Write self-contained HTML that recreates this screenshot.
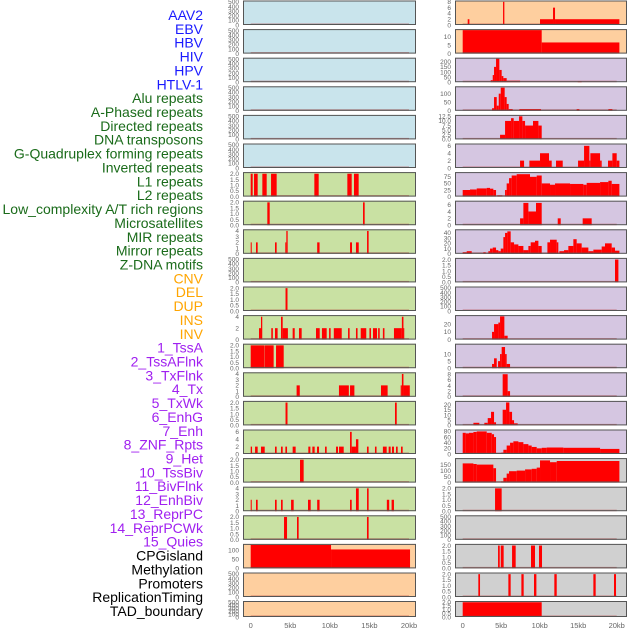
<!DOCTYPE html>
<html><head><meta charset="utf-8"><style>
html,body{margin:0;padding:0;background:#fff;}
svg{display:block;font-family:"Liberation Sans",sans-serif;}
</style></head><body>
<svg id="chart" width="630" height="630" viewBox="0 0 630 630"></svg>
<script>
const trackLabels = ["AAV2","EBV","HBV","HIV","HPV","HTLV-1","Alu repeats","A-Phased repeats","Directed repeats","DNA transposons","G-Quadruplex forming repeats","Inverted repeats","L1 repeats","L2 repeats","Low_complexity A/T rich regions","Microsatellites","MIR repeats","Mirror repeats","Z-DNA motifs","CNV","DEL","DUP","INS","INV","1_TssA","2_TssAFlnk","3_TxFlnk","4_Tx","5_TxWk","6_EnhG","7_Enh","8_ZNF_Rpts","9_Het","10_TssBiv","11_BivFlnk","12_EnhBiv","13_ReprPC","14_ReprPCWk","15_Quies","CPGisland","Methylation","Promoters","ReplicationTiming","TAD_boundary"];
const labelGroups = [6,13,5,15,5];
const groupColors = ["#1a1aff","#1a6b1a","#ffa500","#a020f0","#000000"];
const xTicks = [0,5,10,15,20];
const xTickLabels = ["0","5kb","10kb","15kb","20kb"];

const ticks500 = [0,100,200,300,400,500];
const ticks2 = [0,0.5,1,1.5,2];
const ticks4 = [0,1,2,3,4];

// left column segments [startKb, endKb, value]
const leftYmax = [520,520,520,520,520,520,2.1,2.1,4.2,520,2.1,4.2,2.1,4.2,2.1,6.5,2.1,4.2,2.1,133,520,520];
const leftTicks = [ticks500,ticks500,ticks500,ticks500,ticks500,ticks500,ticks2,ticks2,ticks4,ticks500,ticks2,[0,2,4],ticks2,ticks4,ticks2,[0,2,4,6],ticks2,ticks4,ticks2,[0,50,100],ticks500,ticks500];
const leftSegs = [
 [],[],[],[],[],[],
 [[0,0.25,2],[0.42,0.88,2],[1.47,2.02,2],[2.57,3.28,2],[8.04,8.59,2],[12.21,12.76,2],[13.05,13.64,2]],
 [[2.1,2.4,2],[14.19,14.4,2]],
 [[0,0.13,2],[0.67,0.88,2],[3.07,3.28,2],[4.37,4.5,2],[4.5,4.67,4],[8.4,8.7,2],[12.55,12.8,2],[13.3,13.65,2],[14.7,14.9,4]],
 [],
 [[4.4,4.65,2]],
 [[1.05,1.3,2],[1.3,1.46,4],[2.6,2.8,2],[3.07,3.4,2],[3.83,4.04,4],[4.04,4.7,2],[5.3,5.56,2],[6.1,6.44,2],[8.25,8.72,2],[9.0,9.6,2],[9.9,10.1,2],[10.5,11.5,2],[12.3,12.5,2],[13.3,13.5,2],[13.9,14.6,2],[15.0,15.2,2],[15.45,15.96,2],[16.1,16.3,2],[16.7,16.9,2],[18.1,19.1,2],[19.1,19.3,4],[19.3,19.4,2]],
 [[0,1.68,2],[1.72,2.9,2],[3.2,4.17,2]],
 [[5.8,6.2,2],[11.15,12.4,2],[12.55,13.1,2],[16.46,17.3,2],[18.95,19.1,2],[19.1,19.3,4],[19.3,20.1,2]],
 [[4.4,4.65,2],[18.23,18.45,2]],
 [[0,0.17,2],[0.55,0.88,2],[1.3,1.77,2],[3.07,3.28,2],[3.83,4.04,2],[4.38,4.59,2],[5.3,5.68,2],[7.28,7.54,2],[7.79,8.08,2],[8.38,8.63,2],[9.39,9.6,2],[10.78,11.03,2],[11.16,11.75,2],[12.55,12.76,6],[12.76,13.3,2],[13.3,13.6,4],[14.69,14.9,2],[15.7,15.9,2],[16.7,17.18,2],[17.43,17.68,2],[17.85,18.1,2],[18.36,18.57,2],[18.99,19.2,2]],
 [[6.23,6.69,2]],
 [[0,0.13,2],[0.67,0.88,2],[3.07,3.28,2],[3.83,4.04,2],[5.1,5.43,2],[7.24,7.58,2],[8.4,8.7,2],[12.55,12.76,2],[13.3,13.65,4],[14.7,14.9,4],[17.2,17.5,2],[17.8,18.1,2]],
 [[4.21,4.59,2],[5.85,6.06,2],[14.69,14.9,2]],
 [[0,10.15,130],[10.15,20.13,105]],
 [],[]
];

// right column
const rightYmax = [8.3,14,235,140,13,6.5,91,7,46,2.1,520,31,17,8.5,23,85,200,2.1,520,2.1,2.1,2.1];
const rightTicks = [[0,2,4,6,8],[0,5,10],[0,50,100,150,200],[0,50,100],[0,2.5,5,7.5,10,12.5],[0,2,4,6],[0,25,50,75],[0,2,4,6],[0,10,20,30,40],ticks2,ticks500,[0,10,20],[0,5,10],[0,2,4,6,8],[0,5,10,15,20],[0,20,40,60,80],[0,50,100,150],ticks2,ticks500,ticks2,ticks2,ticks2];
const rightSegs = [
 [[0.65,0.87,2],[5.24,5.41,8],[10.04,11.73,2],[11.73,11.99,6],[11.99,20.35,2]],
 [[0,10.26,13.7],[10.26,20.35,6.5]],
 [[3.64,3.9,20],[3.9,4.07,70],[4.07,4.33,150],[4.33,4.76,230],[4.76,5.06,120],[5.06,5.28,60],[5.28,5.71,40],[5.71,7.45,15],[14.94,15.45,10]],
 [[3.81,4.07,15],[4.07,4.42,80],[4.42,4.68,30],[4.68,4.94,100],[4.94,5.45,135],[5.45,5.71,80],[5.71,5.97,40],[5.97,6.49,10],[7.36,10.17,10],[14.8,15.15,10],[18.92,19.44,10]],
 [[4.85,5.5,2.5],[5.5,6.28,10],[6.28,6.62,11.5],[6.62,7.32,10],[7.32,7.75,12.5],[7.75,8.1,10],[8.1,9.13,7.5],[9.13,9.83,10],[9.83,10.26,7.5]],
 [[7.45,7.97,2],[8.66,10.04,2],[10.04,11.21,4],[11.21,11.56,2],[12.12,12.99,2],[14.98,15.76,2],[15.76,16.45,6],[16.45,16.58,2],[16.58,17.84,4],[17.84,18.05,2],[18.87,19.44,2],[19.44,20.0,4],[20.0,20.35,2]],
 [[0,0.95,25],[0.95,1.82,27],[1.82,3.12,31],[3.12,3.55,33],[3.55,3.98,30],[3.98,4.33,25],[4.5,5.15,5],[5.5,5.71,25],[5.71,6.02,50],[6.02,6.36,70],[6.36,7.01,80],[7.01,8.74,85],[8.74,9.61,75],[9.61,10.26,80],[10.26,11.34,50],[11.34,11.99,45],[11.99,13.94,50],[13.94,15.67,48],[15.67,16.1,45],[16.1,17.84,52],[17.84,18.92,55],[18.92,19.35,60],[19.35,20.35,48]],
 [[7.45,7.88,2],[7.88,8.53,6.5],[8.53,9.52,4],[9.52,10.26,6.5],[12.34,12.73,2],[15.58,16.75,2]],
 [[0,0.52,3],[0.52,1.17,5],[2.68,2.99,3],[3.33,3.55,5],[3.55,3.9,10],[3.9,4.33,12],[4.33,4.63,7],[4.63,4.94,5],[4.94,5.28,10],[5.28,5.5,32],[5.5,5.8,40],[5.8,6.23,43],[6.23,6.67,22],[6.67,7.23,18],[7.23,7.88,15],[7.88,8.53,7],[8.53,8.83,15],[8.83,9.39,22],[9.39,9.83,25],[9.83,10.26,15],[11.0,11.34,22],[11.34,12.21,27],[12.21,12.42,22],[12.55,13.16,5],[13.16,13.72,7],[13.72,14.37,15],[14.37,14.8,28],[14.8,15.45,20],[15.45,16.32,12],[16.32,16.97,5],[16.97,18.05,8],[18.05,18.48,14],[18.48,19.35,20],[19.35,19.78,12],[19.78,20.35,6]],
 [[19.78,20.22,2]],
 [],
 [[3.81,4.07,10],[4.07,4.63,20],[4.63,4.85,22],[4.85,5.41,30],[5.41,5.84,5]],
 [[3.81,4.07,3],[4.07,4.42,7],[4.59,4.85,5],[4.85,5.06,10],[5.06,5.5,15],[5.5,5.71,10],[5.71,6.15,3]],
 [[5.19,5.84,8],[5.84,6.15,2]],
 [[1.39,2.16,2.5],[2.81,3.25,2.5],[3.25,3.68,7],[3.68,4.07,13],[4.07,4.33,3],[5.19,5.63,15],[5.63,6.06,22],[6.06,6.41,13],[6.41,6.67,5],[6.67,7.14,2]],
 [[0,0.39,75],[0.39,0.82,73],[0.82,1.39,75],[1.39,1.82,78],[1.82,3.12,80],[3.12,3.77,75],[3.77,4.07,70],[4.07,4.33,60],[5.02,5.28,5],[5.28,5.71,15],[5.71,6.15,30],[6.15,6.58,40],[6.58,7.23,45],[7.23,7.88,42],[7.88,8.53,35],[8.53,8.96,30],[8.96,9.61,25],[9.61,10.26,20],[10.26,10.91,22],[10.91,13.07,23],[13.07,17.84,22],[17.84,20.35,18]],
 [[0,1.39,160],[1.39,1.82,155],[1.82,3.98,150],[3.98,4.33,120],[4.98,5.28,10],[5.28,5.71,40],[5.71,6.02,75],[6.02,7.01,95],[7.01,8.1,100],[8.1,8.96,110],[8.96,9.61,115],[9.61,10.04,125],[10.04,11.34,185],[11.34,12.21,170],[12.21,20.35,180]],
 [[4.2,5.06,2]],
 [],
 [[4.59,4.81,2],[4.94,5.32,2],[6.41,6.88,2],[8.87,9.39,2],[9.91,10.3,2]],
 [[2.03,2.25,2],[5.93,6.23,2],[7.62,7.92,2],[9.26,9.57,2],[11.9,12.21,2],[16.97,17.27,2],[19.65,19.91,2]],
 [[0,10.26,2]]
];

const NS = "http://www.w3.org/2000/svg";
const svg = document.getElementById("chart");
function mk(tag, attrs, parent){ const e=document.createElementNS(NS,tag); for(const k in attrs) e.setAttribute(k,attrs[k]); (parent||svg).appendChild(e); return e; }

// labels
let li=0;
labelGroups.forEach((n,g)=>{ for(let i=0;i<n;i++){ const t=mk("text",{x:203,y:20+li*13.86,"text-anchor":"end","font-size":"14",fill:groupColors[g]}); t.textContent=trackLabels[li];
 
 
 li++; } });

const cols = [
 {x0:243,x1:416,z:250.7,k:7.915,ymax:leftYmax,ticks:leftTicks,segs:leftSegs,bg:r=>r<6?"#c9e4ec":(r<19?"#c9e1a3":"#fecf9f"),name:"left"},
 {x0:455,x1:627,z:462.7,k:7.7,ymax:rightYmax,ticks:rightTicks,segs:rightSegs,bg:r=>r<2?"#fecf9f":(r<16?"#d5c6e1":"#d0d0d0"),name:"right"}
];
function fmt(v,ticks){ return ticks.some(t=>t%1!==0)||(ticks.length===5&&ticks[4]===2)? (ticks.some(t=>t*10%5!==0)?v.toFixed(1):v.toFixed(1)) : String(v); }

cols.forEach(c=>{
 const xs = kb=>c.z+kb*c.k;
 for(let r=0;r<22;r++){
  const top = r<21 ? r*28.6+0.5 : 601;
  const h = r<21 ? 24.5 : 16;
  const bottom = top+h;
  const ymax=c.ymax[r];
  const ys = v=>bottom - v/ymax*(h-0.5);
  const g=mk("g",{});
  
  
  const bg=mk("rect",{x:c.x0,y:top,width:c.x1-c.x0,height:h,fill:c.bg(r)},g);
  
  
  c.segs[r].forEach(s=>{
   const b=mk("rect",{x:xs(s[0]),y:ys(s[2]),width:Math.max(0.8,xs(s[1])-xs(s[0])),height:bottom-ys(s[2]),fill:"#ff0000"},g);
   
   
  });
  const bl=mk("rect",{x:xs(0),y:bottom-1.5,width:xs(20)-xs(0),height:1.5,fill:"#b03030",opacity:0.5},g);
  
  
  const fr=mk("rect",{x:c.x0+0.5,y:top+0.5,width:c.x1-c.x0-1,height:h-1,fill:"none",stroke:"#555",'stroke-width':1},g);
  
  
  const tk=c.ticks[r]; const dec=tk.some(t=>t%1!==0);
  tk.forEach(t=>{
   const tt=mk("text",{x:c.x0-4,y:ys(t)+2.3,"text-anchor":"end","font-size":"6.5",fill:"#666"},g);
   tt.textContent = dec ? t.toFixed(1) : String(t);
   
   
  });
 }
 xTicks.forEach((v,i)=>{
  const t=mk("text",{x:xs(v),y:628,"text-anchor":"middle","font-size":"7.5",fill:"#666"});
  t.textContent=xTickLabels[i];
  
  
 });
});
</script>
</body></html>
